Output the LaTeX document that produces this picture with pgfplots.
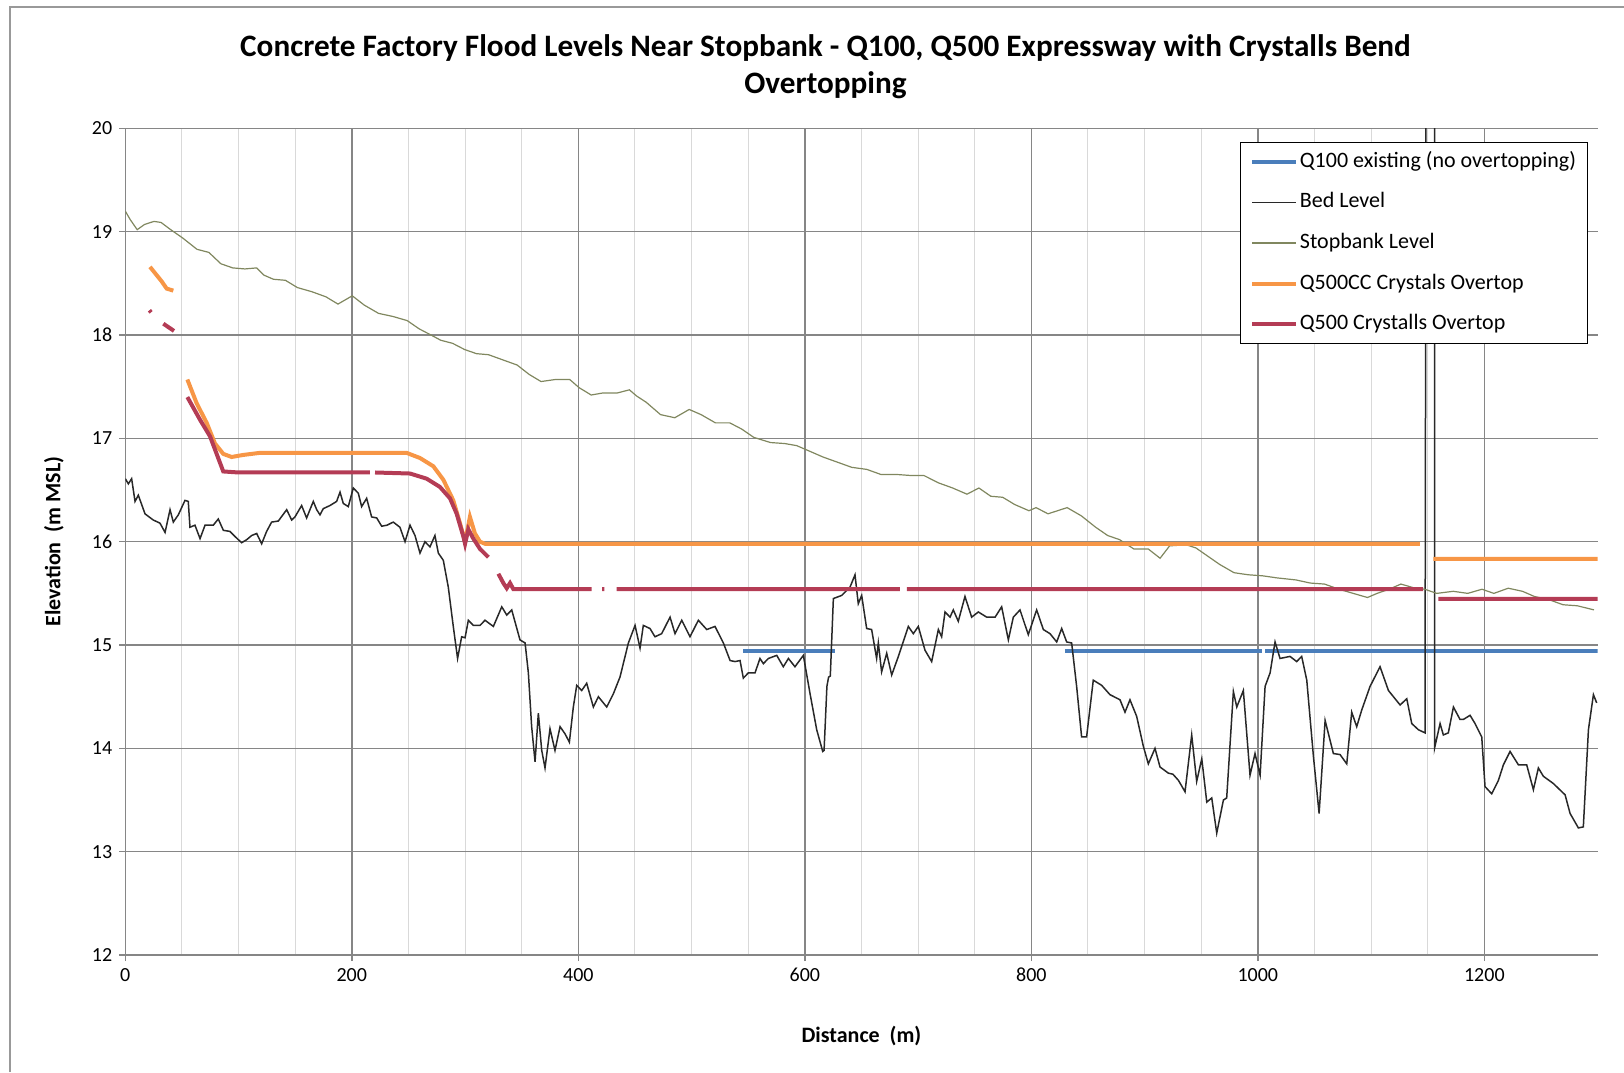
\documentclass[border=0pt]{standalone}
\usepackage{fontspec}
\setmainfont{Carlito}
\usepackage{pgfplots}
\pgfplotsset{compat=1.18}
\definecolor{q100}{RGB}{74,126,187}
\definecolor{bed}{RGB}{40,40,40}
\definecolor{stopc}{RGB}{128,135,95}
\definecolor{q500cc}{RGB}{247,150,70}
\definecolor{q500}{RGB}{180,60,85}
\definecolor{majgrid}{RGB}{134,134,134}
\definecolor{mingrid}{RGB}{217,217,217}
\begin{document}
\begin{tikzpicture}
\path[use as bounding box] (0,0) rectangle (812pt,-536pt);
\draw[gray!80, line width=0.6pt] (5pt,-536pt) -- (5pt,-3.5pt) -- (812pt,-3.5pt);
\node[font=\fontsize{15.6}{18.8}\selectfont\bfseries, align=center] at (412.75pt,-33.4pt)
  {Concrete Factory Flood Levels Near Stopbank - Q100, Q500 Expressway with Crystalls Bend\\Overtopping};
\begin{axis}[
  at={(62.65pt,-477.5pt)}, anchor=south west,
  scale only axis, width=736.15pt, height=413.3pt,
  xmin=0, xmax=1300, ymin=12, ymax=20,
  xtick={0,200,...,1200}, ytick={12,13,...,20},
  minor x tick num=3,
  xmajorgrids, ymajorgrids, xminorgrids,
  major grid style={majgrid, line width=0.75pt},
  minor grid style={mingrid, line width=0.5pt},
  axis x line*=bottom, axis y line*=left,
  axis line style={-, majgrid, line width=0.75pt},
  tick align=outside, major tick length=3pt, minor tick length=0pt,
  tick style={majgrid, line width=0.75pt},
  ticklabel style={font=\fontsize{10}{12}\selectfont},
  /pgf/number format/assume math mode=true,
  /pgf/number format/set thousands separator={},
  xlabel={Distance\ \ (m)}, ylabel={Elevation\ \ (m MSL)},
  label style={font=\fontsize{11}{13}\selectfont\bfseries},
  xlabel style={at={(axis description cs:0.5,-0.0985)}, anchor=center},
  ylabel style={at={(axis description cs:-0.0485,0.5)}, anchor=center},
  unbounded coords=jump,
  legend cell align=left,
  legend image code/.code={\draw[#1] (0pt,0pt) -- (22pt,0pt);},
  legend style={at={(axis description cs:0.757,0.9837)}, anchor=north west,
    draw=black, line width=0.6pt, fill=white, font=\fontsize{11}{13}\selectfont,
    inner xsep=5pt, inner ysep=3.3pt, row sep=7.85pt,
    nodes={inner xsep=0.75pt, inner ysep=1pt, text height=8pt, text depth=2.5pt}},
]
% Q100 existing
\addplot[q100, line width=2pt] coordinates {
(545.7,14.94) (626.6,14.94) (700,nan) (829.7,14.94) (1003.4,14.94) (1005,nan) (1006.4,14.94) (1300,14.94)};
\addlegendentry{Q100 existing (no overtopping)}
% Bed level
\addplot[bed, line width=0.75pt] coordinates {
(0,16.61) (2.7,16.56) (5.6,16.61) (8.6,16.39) (11.5,16.45) (17.4,16.27) (24.7,16.21) (30.6,16.18) (35.1,16.09) (39.5,16.31)
(42.4,16.19) (46.8,16.26) (52.7,16.40) (55.6,16.39) (57.1,16.14) (61.5,16.16) (66.0,16.03) (70.4,16.16) (77.7,16.16) (82.1,16.22)
(86.6,16.11) (92.4,16.10) (96.9,16.05) (102.7,15.99) (107.2,16.02) (111.6,16.06) (116.0,16.08) (120.4,15.98) (124.8,16.10) (129.2,16.19)
(135.1,16.20) (142.5,16.31) (146.9,16.21) (149.8,16.24) (155.7,16.35) (160.1,16.23) (166.0,16.39) (169.0,16.31) (171.9,16.26) (174.8,16.32)
(180.7,16.35) (186.6,16.39) (189.6,16.48) (192.5,16.37) (196.9,16.34) (201.3,16.52) (205.7,16.47) (208.7,16.34) (213.1,16.42) (217.5,16.24)
(222.0,16.23) (226.4,16.15) (231.1,16.16) (236.6,16.19) (242.5,16.14) (247.0,16.00) (251.4,16.16) (255.8,16.06) (260.2,15.89) (264.6,16.00)
(269.0,15.95) (273.4,16.06) (276.4,15.89) (280.8,15.82) (285.2,15.56) (289.6,15.18) (293.4,14.87) (297.0,15.08) (300.0,15.07) (302.9,15.24)
(307.3,15.19) (313.2,15.19) (317.6,15.24) (325.0,15.18) (332.4,15.37) (336.8,15.29) (341.2,15.34) (348.5,15.05) (353.0,15.02) (355.9,14.73)
(358.8,14.21) (361.8,13.87) (364.7,14.34) (367.7,13.98) (370.6,13.81) (375.0,14.19) (379.4,13.98) (383.9,14.21) (388.3,14.14) (392.1,14.06)
(395.6,14.40) (398.6,14.61) (403.0,14.56) (407.4,14.63) (413.3,14.40) (417.7,14.50) (425.1,14.40) (431.0,14.53) (436.8,14.69) (444.2,15.02)
(450.1,15.19) (454.5,14.97) (457.4,15.19) (463.3,15.16) (467.7,15.08) (473.6,15.11) (481.0,15.27) (485.4,15.11) (491.3,15.24) (498.6,15.08)
(506.0,15.24) (513.4,15.15) (520.7,15.18) (528.1,15.02) (534.0,14.85) (538.4,14.84) (542.8,14.85) (545.7,14.68) (550.1,14.73) (556.0,14.73)
(560.4,14.87) (563.4,14.82) (567.8,14.87) (575.2,14.90) (581.0,14.79) (585.5,14.87) (591.3,14.79) (598.7,14.90) (604.6,14.53) (610.5,14.18)
(615.8,13.97) (617.0,13.98) (619.5,14.60) (621.0,14.69) (622.5,14.70) (625.2,15.45) (632.5,15.48) (639.9,15.56) (644.3,15.68) (647.2,15.40)
(650.2,15.48) (654.6,15.16) (659.0,15.15) (663.4,14.87) (664.9,15.02) (667.8,14.74) (672.3,14.92) (676.7,14.71) (682.6,14.89) (691.4,15.18)
(695.8,15.11) (700.2,15.18) (706.1,14.95) (712.0,14.84) (717.9,15.15) (720.8,15.08) (723.8,15.32) (728.2,15.27) (731.1,15.34) (735.5,15.23)
(741.4,15.47) (747.3,15.27) (753.2,15.32) (760.6,15.27) (768.0,15.27) (773.8,15.37) (779.7,15.05) (784.1,15.27) (790.0,15.34) (797.3,15.10)
(804.7,15.34) (810.6,15.15) (816.5,15.11) (822.4,15.03) (826.8,15.16) (831.2,15.03) (835.6,15.02) (840.0,14.60) (844.4,14.11) (848.8,14.11)
(854.7,14.66) (862.1,14.61) (869.4,14.52) (878.3,14.47) (882.7,14.35) (887.1,14.47) (893.0,14.31) (898.9,14.02) (903.3,13.85) (909.2,14.00)
(913.6,13.82) (921.0,13.76) (925.0,13.75) (929.9,13.69) (935.7,13.58) (941.6,14.13) (946.0,13.68) (950.5,13.90) (954.9,13.48) (959.3,13.52)
(963.7,13.18) (969.6,13.50) (972.5,13.52) (978.4,14.55) (981.4,14.40) (987.2,14.56) (993.1,13.74) (997.5,13.95) (1002.0,13.74) (1006.4,14.60)
(1010.8,14.73) (1015.2,15.03) (1019.6,14.87) (1028.4,14.89) (1034.3,14.84) (1038.7,14.89) (1043.2,14.66) (1049.1,13.92) (1054.1,13.37) (1059.4,14.27)
(1066.7,13.95) (1072.6,13.94) (1078.5,13.85) (1082.9,14.35) (1087.3,14.21) (1091.7,14.37) (1099.1,14.60) (1107.9,14.79) (1115.3,14.56) (1125.6,14.42)
(1131.5,14.48) (1135.9,14.24) (1141.8,14.18) (1147.6,14.15) (1148.5,20.5) (1156.0,20.5) (1156.0,14.00) (1160.9,14.24) (1163.8,14.13) (1168.2,14.15)
(1172.7,14.40) (1178.5,14.28) (1181.5,14.28) (1187.4,14.32) (1191.8,14.24) (1197.7,14.11) (1200.6,13.63) (1206.5,13.56) (1212.4,13.69) (1216.8,13.84)
(1222.7,13.97) (1230.1,13.84) (1237.4,13.84) (1243.3,13.60) (1247.7,13.81) (1252.1,13.73) (1260.9,13.66) (1271.3,13.55) (1275.7,13.37) (1283.0,13.23)
(1287.4,13.24) (1291.9,14.18) (1296.3,14.52) (1299.2,14.44)};
\addlegendentry{Bed Level}
% Stopbank level
\addplot[stopc, line width=0.6pt] coordinates {
(0,19.20) (4.2,19.12) (10.5,19.02) (16.9,19.07) (25.3,19.10) (31.6,19.09) (40.1,19.02) (50.6,18.94) (63.3,18.83) (73.8,18.80)
(84.4,18.69) (94.9,18.65) (105.5,18.64) (116.0,18.65) (122.4,18.58) (130.8,18.54) (141.4,18.53) (151.9,18.46) (164.6,18.42) (177.2,18.37)
(187.8,18.30) (200.4,18.38) (211.0,18.29) (223.6,18.21) (236.3,18.18) (248.9,18.14) (259.5,18.06) (270.0,18.00) (278.5,17.95) (289.0,17.92)
(299.6,17.86) (310.1,17.82) (320.7,17.81) (333.3,17.76) (346.0,17.71) (356.5,17.62) (367.1,17.55) (379.7,17.57) (392.4,17.57) (400.8,17.49)
(411.4,17.42) (421.9,17.44) (434.6,17.44) (445.1,17.47) (451.5,17.41) (459.9,17.35) (472.6,17.23) (485.2,17.20) (497.9,17.28) (508.4,17.23)
(521.1,17.15) (533.8,17.15) (544.3,17.09) (554.9,17.01) (569.6,16.96) (582.3,16.95) (592.8,16.93) (603.4,16.88) (616.0,16.82) (628.7,16.77)
(641.4,16.72) (654.7,16.70) (667.4,16.65) (682.1,16.65) (694.7,16.64) (705.3,16.64) (717.9,16.57) (730.5,16.52) (743.2,16.46) (753.7,16.52)
(764.2,16.44) (774.7,16.43) (785.3,16.36) (797.9,16.30) (804.2,16.33) (814.7,16.27) (831.6,16.33) (844.2,16.25) (856.8,16.14) (867.4,16.06)
(877.9,16.02) (890.5,15.93) (903.2,15.93) (913.7,15.84) (922.1,15.96) (936.8,15.97) (945.3,15.94) (955.8,15.86) (966.3,15.78) (979.0,15.70)
(991.6,15.68) (1004.2,15.67) (1016.8,15.65) (1033.7,15.63) (1046.3,15.60) (1058.9,15.59) (1071.6,15.54) (1084.2,15.50) (1096.8,15.46) (1105.3,15.50)
(1115.8,15.54) (1126.3,15.59) (1139.0,15.55) (1147.4,15.54) (1157.9,15.50) (1172.6,15.52) (1185.3,15.50) (1197.9,15.54) (1208.4,15.50) (1221.1,15.55)
(1233.7,15.52) (1244.2,15.47) (1256.8,15.44) (1269.5,15.39) (1282.1,15.38) (1296.8,15.34)};
\addlegendentry{Stopbank Level}
% Q500CC
\addplot[q500cc, line width=2pt] coordinates {
(21.8,18.66) (32.1,18.52) (36.5,18.45) (42.4,18.43) (48,nan)
(54.8,17.57) (63.0,17.34) (71.9,17.15) (79.2,16.95) (86.5,16.85) (93.9,16.82) (104.2,16.84) (118.9,16.86) (248.4,16.86)
(260.2,16.81) (272.0,16.73) (280.8,16.60) (289.6,16.40) (295.5,16.18) (300.0,16.00) (304.3,16.24) (308.7,16.08) (313.2,16.00)
(317.6,15.98) (1143,15.98) (1150,nan) (1155,15.835) (1300,15.835)};
\addlegendentry{Q500CC Crystals Overtop}
% Q500
\addplot[q500, line width=2pt] coordinates {
(21.3,18.24) (22.8,18.22) (28,nan) (33.6,18.11) (43.0,18.04) (48,nan)
(54.8,17.40) (66.0,17.18) (74.8,17.02) (86.5,16.68) (100,16.67) (216,16.67) (218,nan) (220.5,16.67) (251.4,16.66)
(266.1,16.61) (277.8,16.53) (286.7,16.42) (292.6,16.27) (298.5,16.05) (300,15.98) (302.9,16.12) (307.3,16.03) (313.2,15.93) (320.6,15.85)
(325,nan) (329.4,15.69) (333.8,15.60) (336.8,15.55) (339.7,15.60) (342.7,15.54) (411.8,15.54) (415,nan) (421,15.54) (423,15.54) (428,nan)
(433.9,15.54) (684,15.54) (687,nan) (690,15.54) (1146,15.54) (1150,nan) (1159.5,15.447) (1300,15.447)};
\addlegendentry{Q500 Crystalls Overtop}
\end{axis}
\end{tikzpicture}
\end{document}
